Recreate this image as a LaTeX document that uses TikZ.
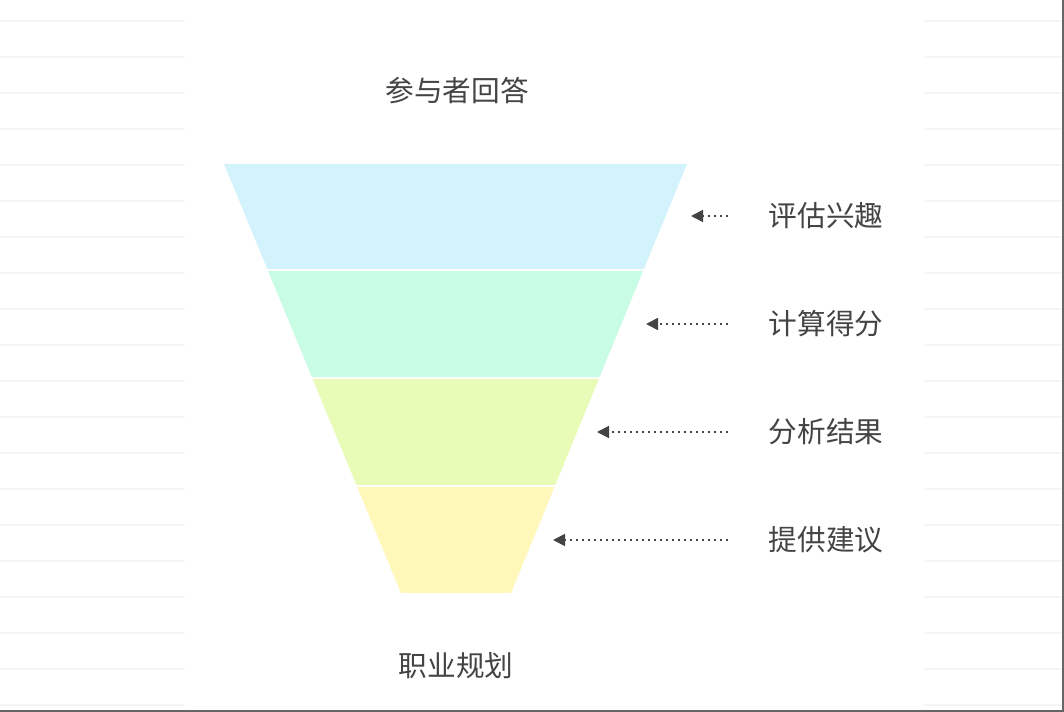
\documentclass[tikz,border=0pt]{standalone}
\usepackage{fontspec}
\newfontfamily\cjk{Noto Sans CJK SC}
\usetikzlibrary{arrows.meta}
\definecolor{txt}{HTML}{444444}
\definecolor{bA}{HTML}{D2F3FC}
\definecolor{bB}{HTML}{C8FCE4}
\definecolor{bC}{HTML}{E8FCB8}
\definecolor{bD}{HTML}{FFF8B8}
\tikzset{lbl/.style={font=\cjk\fontsize{21.5}{24}\selectfont,text=txt},
 ptr/.style={draw=txt,line width=1.3pt,dash pattern=on 1.3pt off 3.2pt,-{Triangle[length=9pt,width=9pt]}}}
\begin{document}
\begin{tikzpicture}[x=0.75pt,y=-0.75pt]
\useasboundingbox (0,0) rectangle (1064,712);
\fill[white] (0,0) rectangle (1064,712);
\foreach \y in {21,57,...,705}{
 \draw[black!4,line width=1.5pt] (0,\y) -- (185,\y);
 \draw[black!4,line width=1.5pt] (924,\y) -- (1062,\y);}
\draw[black!60,line width=1pt] (1063,0) -- (1063,711) -- (0,711);
\def\lx#1{224+0.41259*(#1-164)}
\def\rx#1{687-0.41026*(#1-164)}
\foreach \t/\b/\c in {164/269/bA,271/377/bB,379/485/bC,487/593/bD}{
 \fill[\c] ({\lx{\t}},\t) -- ({\rx{\t}},\t) -- ({\rx{\b}},\b) -- ({\lx{\b}},\b) -- cycle;}
\node[lbl] (top) at (457,91) {参与者回答};
\node[lbl] (bot) at (456,666) {职业规划};
\foreach \n/\y/\tx/\s in {a/216/691/评估兴趣,b/324/646/计算得分,c/432/597/分析结果,d/540/553/提供建议}{
 \node[lbl] (\n) at (826,\y) {\s};
 \coordinate (\n s) at (728,\y);
 \coordinate (\n e) at (\tx,\y);
 \draw[ptr] (\n s) -- (\n e);}
\end{tikzpicture}
\end{document}
